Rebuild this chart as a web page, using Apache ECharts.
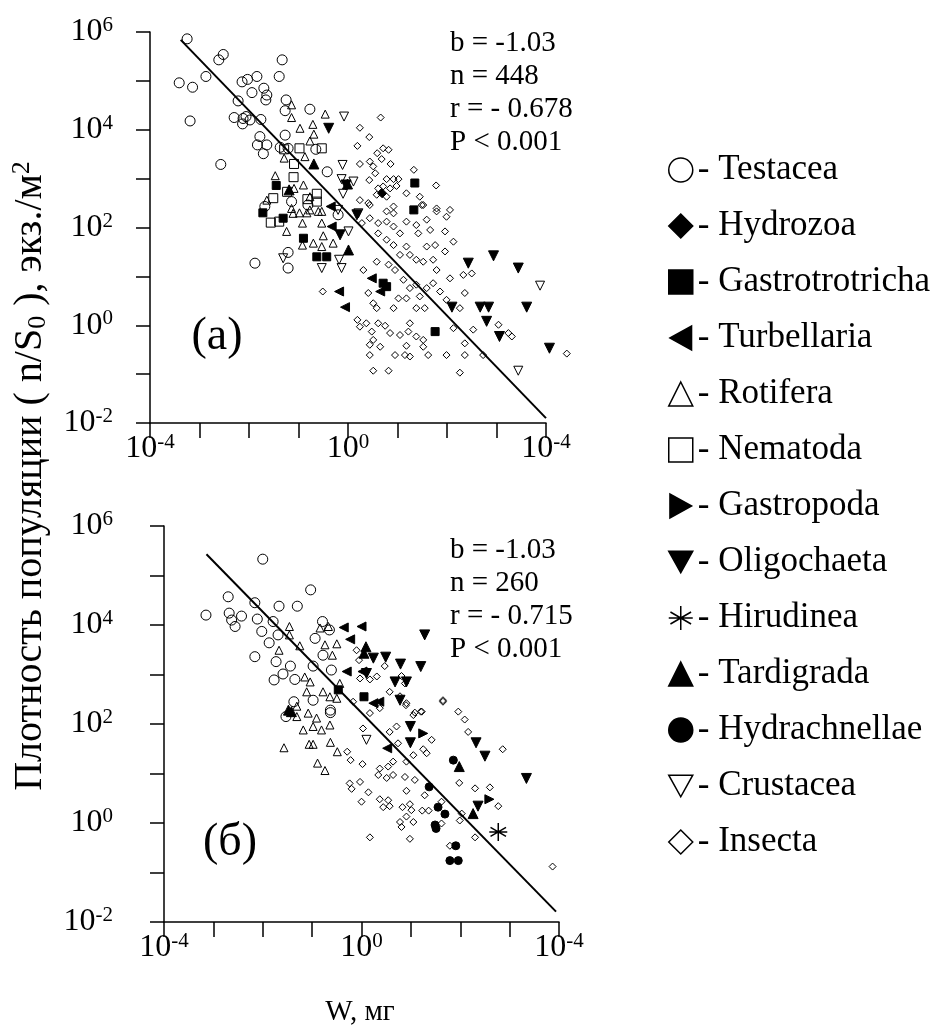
<!DOCTYPE html>
<html>
<head>
<meta charset="utf-8">
<script src="https://cdn.jsdelivr.net/npm/echarts@6/dist/echarts.min.js"></script>
<style>
html,body{margin:0;padding:0;background:#fff}
#main{width:933px;height:1030px}
</style>
</head>
<body>
<div id="main"></div>
<script>
// all values are log10: [log W (мг), log n/S0 (экз./м2)]
var testaceaA = [[-3.25,5.86],[-3.41,4.96],[-3.14,4.87],[-2.87,5.09],[-2.61,5.43],[-2.52,5.54],[-3.19,4.18],[-2.14,4.98],[-2.03,5.03],[-1.84,5.09],[-1.94,4.76],[-1.70,4.85],[-1.64,4.71],[-1.66,4.61],[-1.39,5.09],[-1.33,5.43],[-2.22,4.59],[-2.30,4.25],[-2.12,4.23],[-2.06,4.27],[-1.98,4.20],[-2.13,4.12],[-1.76,4.21],[-1.78,3.86],[-1.83,3.69],[-1.71,3.51],[-2.57,3.29],[-1.25,4.61],[-1.27,4.39],[-1.27,3.89],[-0.77,4.42],[-0.65,3.60],[-0.42,3.14],[-1.37,3.64],[-1.21,3.62],[-1.64,3.69],[-0.81,2.46],[-1.68,2.43],[-1.14,2.53],[-0.20,2.26],[-1.88,1.27],[-1.21,1.49],[-1.21,1.17]];
var hydrozoaA = [[0.69,2.70]];
var gastrotrichaA = [[-1.45,2.86],[1.35,2.91],[1.33,2.36],[-1.31,2.19],[-0.90,1.78],[-0.63,1.40],[-0.43,1.40],[0.71,0.86],[0.78,0.79],[1.76,-0.13],[-1.72,2.30]];
var turbellariaA = [[-0.35,2.43],[-0.33,2.02],[0.48,0.96],[0.65,0.69],[-0.18,0.69],[-0.06,0.37]];
var rotiferaA = [[-1.14,4.51],[-1.14,4.25],[-0.97,4.03],[-0.71,4.11],[-0.69,3.91],[-0.46,4.32],[-0.77,3.77],[-1.29,3.42],[-0.87,3.45],[-1.09,2.80],[-1.47,3.06],[-0.90,2.87],[-1.64,2.56],[-1.14,2.39],[-0.98,2.30],[-0.83,2.30],[-0.53,2.33],[-0.77,2.63],[-1.24,1.92],[-1.11,2.29],[-0.92,2.09],[-0.77,2.36],[-0.92,1.64],[-0.70,1.68],[-0.53,2.09],[-0.50,1.83],[-0.60,2.33],[-0.30,1.68],[-0.53,1.61]];
var nematodaA = [[-1.29,3.60],[-0.98,3.62],[-0.53,3.62],[-1.09,3.30],[-1.10,3.03],[-0.63,2.69],[-0.82,2.58],[-0.63,2.53],[-1.51,2.60],[-1.56,2.10],[-1.39,2.12],[-1.23,2.73]];
var oligochaetaA = [[-0.39,4.03],[-0.04,2.87],[-0.16,1.85],[2.94,1.42],[2.43,1.27],[3.44,1.17],[2.10,0.37],[2.67,0.37],[2.84,0.37],[3.61,0.37],[2.80,0.08],[3.06,-0.23],[4.07,-0.47],[0.18,2.26]];
var tardigradaA = [[-0.69,3.30],[-1.19,2.77],[-0.01,2.89],[0.01,1.54]];
var crustaceaA = [[-0.08,4.27],[-0.11,3.28],[-0.13,2.99],[0.11,2.94],[-0.10,2.69],[-0.20,2.36],[-1.31,1.37],[-0.53,1.17],[-0.18,1.34],[-0.13,1.17],[0.01,1.92],[0.21,2.29],[3.88,0.81],[3.44,-0.93]];
var insectaA = [[0.66,4.25],[0.24,4.04],[0.43,3.85],[0.19,3.67],[0.59,3.52],[0.71,3.62],[0.82,3.59],[0.24,3.30],[0.44,3.35],[0.51,3.25],[0.68,3.40],[0.86,3.30],[1.33,3.18],[1.78,2.86],[0.43,2.97],[0.55,3.11],[0.78,2.99],[0.92,2.99],[1.02,2.99],[0.71,2.84],[0.61,2.80],[0.85,2.80],[0.98,2.85],[1.18,2.70],[0.58,2.67],[0.78,2.63],[0.24,2.56],[0.44,2.46],[0.92,2.43],[1.45,2.63],[1.49,2.46],[1.79,2.39],[2.06,2.36],[1.99,2.22],[0.41,2.50],[0.78,2.33],[0.92,2.29],[1.52,2.46],[1.79,2.33],[0.44,2.19],[0.61,2.09],[0.78,2.12],[0.92,2.02],[0.28,2.09],[1.05,1.88],[0.61,1.88],[1.18,2.12],[1.38,2.05],[1.59,2.16],[1.42,1.88],[1.66,1.95],[1.96,1.92],[2.13,1.71],[1.96,1.51],[0.78,1.75],[0.92,1.64],[1.18,1.61],[1.05,1.44],[1.25,1.44],[1.38,1.34],[1.59,1.61],[1.76,1.64],[1.52,1.30],[1.72,1.34],[1.79,1.13],[2.06,0.96],[2.33,1.03],[2.50,1.06],[2.36,0.66],[0.31,1.13],[0.58,1.30],[0.82,1.24],[0.95,1.13],[1.12,0.93],[1.25,0.76],[1.38,0.83],[1.45,0.59],[1.18,0.55],[1.02,0.55],[1.59,0.76],[1.72,0.86],[1.86,0.69],[1.99,0.52],[2.26,0.35],[1.38,0.35],[1.55,0.35],[0.92,0.35],[0.58,0.35],[0.51,0.45],[0.41,0.66],[0.19,0.11],[0.24,-0.03],[0.37,0.04],[0.48,-0.13],[0.61,0.04],[0.75,-0.01],[0.85,-0.16],[1.05,-0.20],[1.22,-0.13],[1.25,0.04],[1.38,-0.23],[1.52,-0.30],[1.52,-0.44],[1.62,-0.61],[1.18,-0.42],[0.51,-0.30],[0.44,-0.40],[0.65,-0.44],[0.95,-0.61],[1.15,-0.61],[1.25,-0.64],[0.44,-0.61],[0.51,-0.93],[0.82,-0.93],[2.26,-0.97],[1.99,-0.61],[2.36,-0.61],[2.36,-0.37],[2.73,-0.61],[3.04,0.01],[3.24,-0.16],[3.31,-0.23],[2.53,-0.09],[2.13,-0.06],[-0.51,0.69],[4.42,-0.58]];

var testaceaB = [[-2.00,5.33],[-1.03,4.71],[-2.70,4.57],[-2.16,4.45],[-1.67,4.38],[-1.30,4.38],[-3.15,4.20],[-2.68,4.24],[-2.43,4.18],[-2.63,4.10],[-2.56,3.97],[-2.11,4.12],[-1.79,4.07],[-2.02,3.87],[-1.69,3.80],[-0.79,4.07],[-0.94,3.73],[-1.87,3.64],[-2.16,3.36],[-1.73,3.26],[-1.44,3.17],[-1.59,3.01],[-1.77,2.89],[-1.35,2.90],[-0.98,3.17],[-0.78,3.39],[-0.61,3.09],[-0.98,2.48],[-1.37,2.45],[-0.63,2.28],[-0.65,3.90],[-1.53,2.15],[-0.63,2.23]];
var gastrotrichaB = [[-0.47,2.69],[0.05,2.55]];
var turbellariaB = [[-0.36,3.95],[0.00,3.97],[-0.23,3.71],[-0.30,3.06],[0.02,3.06],[0.24,2.42],[0.36,2.45],[0.52,1.51]];
var rotiferaB = [[-1.46,3.97],[-1.46,3.80],[-1.25,3.58],[-1.67,3.49],[-0.84,3.94],[-0.67,3.97],[-0.50,3.62],[-0.74,3.60],[-0.59,3.39],[-1.15,2.95],[-1.04,2.85],[-1.11,2.65],[-0.78,2.65],[-0.64,2.55],[-0.50,2.52],[-0.44,2.82],[-1.31,2.36],[-1.08,2.22],[-0.91,2.12],[-1.18,1.88],[-0.98,1.95],[-0.81,1.88],[-0.64,1.98],[-1.57,1.52],[-1.06,1.59],[-0.98,1.59],[-0.63,1.63],[-0.49,1.44],[-0.89,1.21],[-0.74,1.06],[-1.31,2.15]];
var gastropodaB = [[1.25,1.81],[2.59,0.48]];
var oligochaetaB = [[1.28,3.80],[0.24,3.33],[0.49,3.35],[0.79,3.21],[1.20,3.16],[0.68,2.85],[0.91,2.85],[0.10,3.02],[0.99,1.95],[0.99,1.62],[2.32,1.62],[2.50,1.35],[3.34,0.90],[2.36,0.34],[0.78,2.48]];
var hirudineaB = [[2.77,-0.18]];
var tardigradaB = [[-1.42,2.25],[0.09,3.56],[0.05,3.43],[-1.48,2.28],[1.98,1.14],[2.26,0.19]];
var hydrachnellaeB = [[1.86,1.27],[1.37,0.73],[1.55,0.32],[1.69,0.18],[1.49,-0.04],[1.51,-0.11],[1.91,-0.46],[1.79,-0.76],[1.96,-0.76]];
var crustaceaB = [[0.10,1.68]];
var insectaB = [[-0.10,3.49],[-0.05,3.29],[0.47,3.17],[-0.03,2.92],[0.17,2.90],[0.31,2.96],[0.81,2.97],[0.88,2.82],[0.57,2.65],[0.78,2.56],[0.91,2.42],[1.65,2.48],[1.08,2.23],[1.22,2.25],[1.96,2.25],[0.17,2.22],[0.37,2.32],[-0.17,2.45],[0.90,2.38],[1.05,2.18],[1.20,2.25],[1.65,2.45],[2.09,2.09],[2.16,1.84],[2.86,1.49],[0.03,1.91],[0.57,1.84],[0.71,1.95],[0.74,1.61],[1.42,1.68],[1.25,1.49],[1.32,1.41],[1.05,1.37],[0.91,1.24],[0.64,1.24],[0.54,1.14],[0.37,1.10],[0.34,0.97],[0.51,0.91],[0.64,0.97],[0.88,0.93],[1.08,0.87],[-0.29,1.44],[-0.22,1.27],[0.02,1.19],[-0.24,0.80],[-0.03,0.83],[-0.20,0.69],[0.14,0.62],[0.00,0.43],[0.37,0.48],[0.54,0.46],[0.44,0.32],[0.57,0.34],[0.91,0.65],[0.83,0.32],[1.01,0.26],[0.98,0.38],[0.91,0.13],[0.78,0.02],[0.81,-0.08],[1.05,0.02],[0.98,-0.32],[0.17,-0.29],[1.28,0.56],[1.23,0.25],[1.36,0.25],[1.62,-0.01],[1.62,0.43],[1.98,0.81],[2.30,0.70],[2.60,0.72],[2.77,0.34],[2.03,0.19],[1.99,0.05],[2.30,-0.29],[1.79,-0.46],[3.87,-0.88]];

// regression lines
var fitA = [[-3.38,5.84],[4.0,-1.9]];
var fitB = [[-3.14,5.43],[3.94,-1.79]];

var statsA = ['b = -1.03','n = 448','r = - 0.678','P < 0.001'];
var statsB = ['b = -1.03','n = 260','r = - 0.715','P < 0.001'];

// tick labels (exponent written as in the figure)
var xLabelAt = [-4, 0, 4];
var xLabelExp = ['-4', '0', '-4'];
var yLabelAt = [-2, 0, 2, 4, 6];
var yLabelExp = ['-2', '0', '2', '4', '6'];

var taxa = ['Testacea','Hydrozoa','Gastrotrotricha','Turbellaria','Rotifera','Nematoda','Gastropoda','Oligochaeta','Hirudinea','Tardigrada','Hydrachnellae','Crustacea','Insecta'];

var FONT = '"Liberation Serif","Times New Roman",serif';

var SYM = {
	Testacea:['circle',10,false],
	Hydrozoa:['diamond',9,true],
	Gastrotrotricha:['rect',8,true],
	Turbellaria:['path://M0,5L9,0L9,10Z',9,true],
	Rotifera:['triangle',8,false],
	Nematoda:['rect',9,false],
	Gastropoda:['path://M9,5L0,0L0,10Z',9,true],
	Oligochaeta:['path://M0,0L10,0L5,9Z',10,true],
	Hirudinea:['path://M5,0L5,10M0.7,2.5L9.3,7.5M0.7,7.5L9.3,2.5M0,5L10,5',18,false],
	Tardigrada:['triangle',10,true],
	Hydrachnellae:['circle',8,true],
	Crustacea:['path://M0,0L10,0L5,9Z',9,false],
	Insecta:['diamond',7,false]
};

function sc(name, data, g){
	var s = SYM[name];
	return {
		name: name, type: 'scatter', xAxisIndex: g, yAxisIndex: g,
		data: data, symbol: s[0], symbolSize: s[1], clip: false, silent: true,
		itemStyle: {color: s[2] ? '#000' : 'rgba(0,0,0,0)', borderColor: '#000', borderWidth: name=='Hirudinea' ? 1.5 : 1, opacity: 1}
	};
}

function fmtX(v){
	var i = xLabelAt.indexOf(v);
	return i < 0 ? '' : '10{sup|' + xLabelExp[i] + '}';
}
function fmtY(v){
	var i = yLabelAt.indexOf(v);
	return i < 0 ? '' : '10{sup|' + yLabelExp[i] + '}';
}

var labRich = {sup: {fontSize: 21, lineHeight: 18, verticalAlign: 'top', fontFamily: FONT, color: '#000'}};

function xAx(g){
	return {
		type: 'value', gridIndex: g, min: -4, max: 4, interval: 1,
		splitLine: {show: false},
		axisLine: {onZero: false, lineStyle: {color: '#000', width: 1.5}},
		axisTick: {length: 15, lineStyle: {color: '#000', width: 1.5}},
		axisLabel: {margin: 9, color: '#000', fontSize: 32, fontFamily: FONT, lineHeight: 34, formatter: fmtX, rich: labRich}
	};
}
function yAx(g, margin){
	return {
		type: 'value', gridIndex: g, min: -2, max: 6, interval: 1,
		splitLine: {show: false},
		axisLine: {onZero: false, lineStyle: {color: '#000', width: 1.5}},
		axisTick: {length: 14, lineStyle: {color: '#000', width: 1.5}},
		axisLabel: {margin: margin, color: '#000', fontSize: 32, fontFamily: FONT, lineHeight: 34, formatter: fmtY, rich: labRich}
	};
}

var series = [];
series.push({type:'line', xAxisIndex:0, yAxisIndex:0, data: fitA, symbol:'none', silent:true, lineStyle:{color:'#000', width:2}});
series.push({type:'line', xAxisIndex:1, yAxisIndex:1, data: fitB, symbol:'none', silent:true, lineStyle:{color:'#000', width:2}});

var panelA = {Testacea:testaceaA, Hydrozoa:hydrozoaA, Gastrotrotricha:gastrotrichaA, Turbellaria:turbellariaA, Rotifera:rotiferaA, Nematoda:nematodaA, Oligochaeta:oligochaetaA, Tardigrada:tardigradaA, Crustacea:crustaceaA, Insecta:insectaA};
var panelB = {Testacea:testaceaB, Gastrotrotricha:gastrotrichaB, Turbellaria:turbellariaB, Rotifera:rotiferaB, Gastropoda:gastropodaB, Oligochaeta:oligochaetaB, Hirudinea:hirudineaB, Tardigrada:tardigradaB, Hydrachnellae:hydrachnellaeB, Crustacea:crustaceaB, Insecta:insectaB};
taxa.forEach(function(t){
	if(panelA[t]) series.push(sc(t, panelA[t], 0));
	if(panelB[t]) series.push(sc(t, panelB[t], 1));
});

var myChart = echarts.init(document.getElementById('main'));
var option = {
	animation: false,
	backgroundColor: '#fff',
	grid: [
		{left: 150, top: 32, width: 396, height: 391},
		{left: 164, top: 526, width: 395, height: 396}
	],
	xAxis: [xAx(0), xAx(1)],
	yAxis: [yAx(0, 37), yAx(1, 51)],
	legend: {
		orient: 'vertical', left: 663, top: 147,
		itemWidth: 24, itemHeight: 24, itemGap: 20,
		selectedMode: false,
		data: taxa,
		itemStyle: {borderWidth: 1.5},
		formatter: function(n){ return '- ' + n; },
		textStyle: {fontSize: 35, lineHeight: 36, fontFamily: FONT, color: '#000'}
	},
	series: series,
	graphic: [
		{type:'text', left:450, top:27, silent:true, style:{text: statsA.join('\n'), fontSize:29, lineHeight:33, fontFamily:FONT, fill:'#000'}},
		{type:'text', left:450, top:534, silent:true, style:{text: statsB.join('\n'), fontSize:29, lineHeight:33, fontFamily:FONT, fill:'#000'}},
		{type:'text', x:217, y:337, silent:true, style:{text:'(a)', fontSize:46, fontFamily:FONT, fill:'#000', align:'center', verticalAlign:'middle'}},
		{type:'text', x:230, y:843, silent:true, style:{text:'(б)', fontSize:46, fontFamily:FONT, fill:'#000', align:'center', verticalAlign:'middle'}},
		{type:'text', x:30, y:476, rotation: Math.PI/2, silent:true, style:{
			text:'Плотность популяции ( n/S{sub|0} ), экз./м{sup|2}',
			fontSize:40, lineHeight:42, fontFamily:FONT, fill:'#000', align:'center', verticalAlign:'middle',
			rich:{
				sub:{fontSize:26, lineHeight:26, verticalAlign:'bottom', fontFamily:FONT, fill:'#000'},
				sup:{fontSize:26, lineHeight:26, verticalAlign:'top', fontFamily:FONT, fill:'#000'}
			}
		}},
		{type:'text', x:360, y:1012, silent:true, style:{text:'W, мг', fontSize:29, fontFamily:FONT, fill:'#000', align:'center', verticalAlign:'middle'}}
	]
};
myChart.setOption(option, true);
</script>
</body>
</html>
